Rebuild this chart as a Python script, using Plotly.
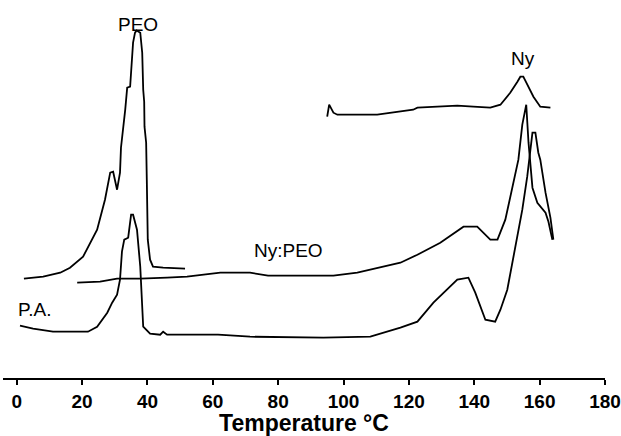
import plotly.graph_objects as go

# Temperature (°C) and heat-flow (arbitrary units, curves offset vertically)
peo_T = [2.2, 8.1, 13.3, 16.3, 20.3, 24.6, 27.0, 28.6, 29.5, 30.7, 31.6, 31.9, 33.2, 33.8, 34.7, 35.3,
         35.6, 36.2, 36.7, 37.8, 38.4, 38.7, 39.0, 39.1, 39.6, 39.8, 40.1, 40.8, 41.7, 44.8, 51.5]
peo_H = [99.3, 101.3, 105.3, 110.3, 121.3, 148.3, 178.3, 205.3, 206.3, 188.3, 205.3, 230.3, 268.3, 290.3,
         291.3, 318.3, 335.3, 345.3, 347.6, 345.3, 325.3, 288.3, 276.3, 251.3, 235.3, 198.3, 138.3, 118.3,
         111.3, 110.3, 109.3]

nypeo_T = [18.5, 25.5, 30.7, 37.8, 46.0, 52.1, 62.3, 71.4, 76.9, 96.9, 104.2, 112.2, 117.4, 122.6, 129.6,
           136.7, 140.9, 144.9, 147.1, 149.5, 152.6, 153.5, 154.7, 155.9, 156.6, 157.8, 159.3, 161.8,
           162.7, 163.9]
nypeo_H = [95.3, 96.3, 99.3, 99.3, 100.3, 101.3, 105.3, 105.3, 102.3, 102.3, 105.3, 111.3, 115.3, 123.3,
           135.3, 151.3, 151.3, 138.3, 138.3, 158.3, 205.3, 218.3, 253.3, 273.3, 235.3, 190.3, 175.3,
           165.3, 156.3, 138.3]

pa_T = [1.0, 5.0, 11.1, 21.8, 24.6, 27.7, 29.2, 30.7, 31.6, 32.2, 32.9, 34.1, 35.0, 35.6, 36.8, 37.8,
        38.7, 40.8, 43.9, 44.8, 46.0, 61.6, 71.4, 93.8, 108.2, 112.2, 117.4, 122.6, 127.5, 134.8, 138.2,
        140.3, 141.9, 143.4, 146.4, 148.0, 150.1, 152.0, 154.7, 156.2, 156.9, 157.8, 158.7, 159.6,
        160.2, 161.8, 163.3, 164.2]
pa_H = [52.3, 49.3, 46.3, 46.3, 51.3, 65.3, 75.3, 83.3, 98.3, 126.3, 138.3, 140.3, 163.3, 163.3, 148.3,
        111.3, 51.3, 44.3, 43.3, 46.3, 43.3, 43.3, 41.3, 40.3, 41.3, 45.3, 50.3, 56.3, 75.3, 98.3, 100.3,
        85.3, 71.3, 58.3, 56.3, 68.3, 88.3, 121.3, 168.3, 201.3, 218.3, 245.3, 245.3, 225.3, 218.3,
        185.3, 160.3, 138.3]

ny_T = [95.0, 95.6, 96.9, 98.1, 110.3, 116.4, 121.3, 122.6, 127.5, 134.8, 139.7, 144.9, 148.0, 151.0,
        153.2, 154.1, 155.0, 156.6, 158.1, 160.2, 163.3]
ny_H = [261.3, 273.3, 265.3, 263.3, 263.3, 266.3, 268.3, 270.3, 271.3, 272.3, 271.3, 270.3, 273.3, 285.3,
        296.3, 301.3, 301.3, 291.3, 281.3, 271.3, 270.3]

x_ticks = [0, 20, 40, 60, 80, 100, 120, 140, 160, 180]

labels = ["PEO", "Ny", "Ny:PEO", "P.A."]
label_T = [37.1, 155.0, 83.2, 5.3]
label_H = [354.0, 320.0, 128.0, 69.0]

FONT = "Arial, Liberation Sans, sans-serif"

fig = go.Figure()
line = dict(color="black", width=1.8)
for T, H, name in [(peo_T, peo_H, "PEO"), (nypeo_T, nypeo_H, "Ny:PEO"),
                   (pa_T, pa_H, "P.A."), (ny_T, ny_H, "Ny")]:
    fig.add_trace(go.Scatter(x=T, y=H, mode="lines", line=line, name=name, showlegend=False))

for txt, tx, hy in zip(labels, label_T, label_H):
    fig.add_annotation(x=tx, y=hy, text=txt, showarrow=False, xanchor="center", yanchor="middle",
                       font=dict(family=FONT, size=19, color="black"))

fig.update_layout(
    width=621, height=436,
    margin=dict(l=3, r=16, t=0, b=58, autoexpand=False),
    paper_bgcolor="white", plot_bgcolor="white",
    xaxis=dict(range=[-4.2, 180], tickvals=x_ticks, ticktext=[str(v) for v in x_ticks],
               automargin=False,
               showline=True, linecolor="black", linewidth=2, ticks="outside", ticklen=5,
               tickwidth=1.5, tickcolor="black", showgrid=False, zeroline=False,
               tickfont=dict(family=FONT, size=19, color="black", weight="bold"),
               title=dict(text="Temperature °C", standoff=9,
                          font=dict(family=FONT, size=23, color="black", weight="bold"))),
    yaxis=dict(range=[0, 378], visible=False, showgrid=False, zeroline=False, automargin=False),
)

fig.write_html("out.html", config={"displayModeBar": False},
               post_script="document.body.style.margin='0px';document.body.style.overflow='hidden';")
